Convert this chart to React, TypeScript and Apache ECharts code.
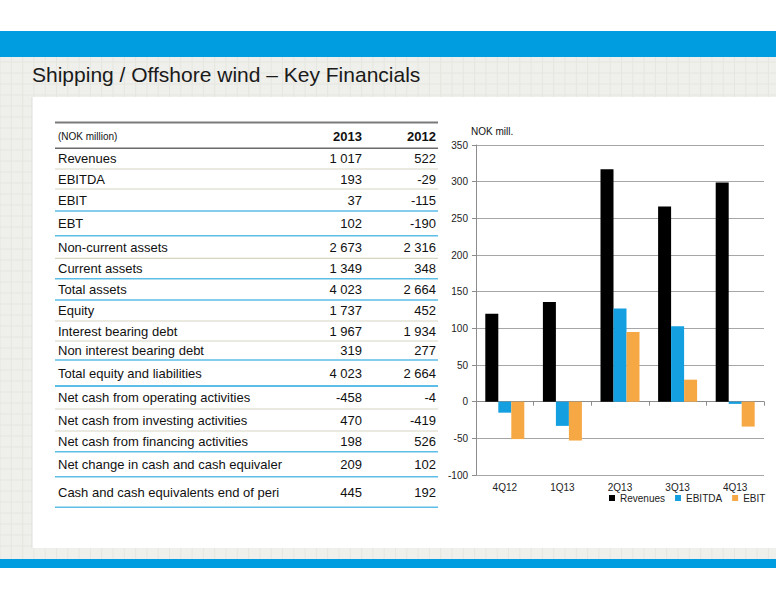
import { useEffect, useRef } from 'react';
import * as echarts from 'echarts';

// chart data (NOK mill.)
const quarters = ['4Q12', '1Q13', '2Q13', '3Q13', '4Q13'];
const revenues = [120, 136, 317, 266, 299];
const ebitda = [-15, -33, 127, 103, -3];
const ebit = [-51, -53, 95, 30, -34];
const yMin = -100;
const yMax = 350;
const yStep = 50;

// table data
const tableHeader = '(NOK million)';
const tableYears = ['2013', '2012'];
const rowLabels = [
    'Revenues',
    'EBITDA',
    'EBIT',
    'EBT',
    'Non-current assets',
    'Current assets',
    'Total assets',
    'Equity',
    'Interest bearing debt',
    'Non interest bearing debt',
    'Total equity and liabilities',
    'Net cash from operating activities',
    'Net cash from investing activities',
    'Net cash from financing activities',
    'Net change in cash and cash equivaler',
    'Cash and cash equivalents end of peri'
];
const values2013 = ['1 017', '193', '37', '102', '2 673', '1 349', '4 023', '1 737', '1 967', '319', '4 023', '-458', '470', '198', '209', '445'];
const values2012 = ['522', '-29', '-115', '-190', '2 316', '348', '2 664', '452', '1 934', '277', '2 664', '-4', '-419', '526', '102', '192'];

// table layout
const rowHeights = [20.7, 20, 22, 24.7, 22.6, 20.4, 21.3, 21, 20, 19, 26, 23, 22, 20.7, 25, 30.6];
const rowRules = ['b', 'b', 'u', 'u', 'b', 'u', 'u', 'b', 'b', 'u', 'u', 'b', 'b', 'u', 'u', 'u'];

const FONT = '"Liberation Sans", Arial, sans-serif';
const BLUE = '#009ee0';
const PANEL = '#efefeb';
const PANEL_LINE = '#e6e6e1';

const buildBackground = () => {
    const els: any[] = [];
    els.push({ type: 'rect', shape: { x: 0, y: 31, width: 776, height: 26 }, style: { fill: BLUE } });
    els.push({ type: 'rect', shape: { x: 0, y: 57, width: 776, height: 40 }, style: { fill: PANEL } });
    els.push({ type: 'rect', shape: { x: 0, y: 97, width: 32, height: 451 }, style: { fill: PANEL } });
    els.push({ type: 'rect', shape: { x: 0, y: 548, width: 776, height: 11 }, style: { fill: PANEL } });
    els.push({ type: 'rect', shape: { x: 0, y: 559, width: 776, height: 9 }, style: { fill: BLUE } });
    // faint grid texture
    for (let x = 0; x <= 776; x += 11.3) {
        els.push({ type: 'line', shape: { x1: x, y1: 57, x2: x, y2: 97 }, style: { stroke: PANEL_LINE, lineWidth: 1 } });
        els.push({ type: 'line', shape: { x1: x, y1: 548, x2: x, y2: 559 }, style: { stroke: PANEL_LINE, lineWidth: 1 } });
        if (x < 32) {
            els.push({ type: 'line', shape: { x1: x, y1: 97, x2: x, y2: 548 }, style: { stroke: PANEL_LINE, lineWidth: 1 } });
        }
    }
    for (let y = 62; y < 97; y += 11) {
        els.push({ type: 'line', shape: { x1: 0, y1: y, x2: 776, y2: y }, style: { stroke: PANEL_LINE, lineWidth: 1 } });
    }
    for (let y = 106; y < 548; y += 11) {
        els.push({ type: 'line', shape: { x1: 0, y1: y, x2: 32, y2: y }, style: { stroke: PANEL_LINE, lineWidth: 1 } });
    }
    els.push({ type: 'line', shape: { x1: 32, y1: 97, x2: 32, y2: 548 }, style: { stroke: '#dedfd9', lineWidth: 1 } });
    els.push({
        type: 'text',
        style: {
            text: 'Shipping / Offshore wind – Key Financials',
            x: 32, y: 74,
            font: '21px ' + FONT,
            fill: '#1a1a1a',
            align: 'left', verticalAlign: 'middle',
            textAlign: 'left', textVerticalAlign: 'middle'
        }
    });
    return els;
};

const txt = (text: string, x: number, y: number, size: number, align: string, bold = false) => ({
    type: 'text',
    style: {
        text, x, y,
        font: (bold ? 'bold ' : '') + size + 'px ' + FONT,
        fill: '#111',
        align, verticalAlign: 'middle',
        textAlign: align, textVerticalAlign: 'middle'
    }
});

const buildTable = () => {
    const els: any[] = [];
    const left = 55;
    const right = 438;
    const col1 = 362;
    const col2 = 436;
    const top = 122.5;
    const headerBottom = 148.3;

    els.push({ type: 'line', shape: { x1: left, y1: top, x2: right, y2: top }, style: { stroke: '#7a7a7a', lineWidth: 2 } });
    els.push(txt(tableHeader, 58, 136, 10, 'left'));
    els.push(txt(tableYears[0], col1, 136, 13, 'right', true));
    els.push(txt(tableYears[1], col2, 136, 13, 'right', true));
    els.push({ type: 'line', shape: { x1: left, y1: headerBottom, x2: right, y2: headerBottom }, style: { stroke: '#6a6a6a', lineWidth: 1.5 } });

    let y = headerBottom;
    rowLabels.forEach((label, i) => {
        const h = rowHeights[i];
        const cy = y + h / 2;
        els.push(txt(label, 58, cy, 13, 'left'));
        els.push(txt(values2013[i], col1, cy, 13, 'right'));
        els.push(txt(values2012[i], col2, cy, 13, 'right'));
        y += h;
        const isBlue = rowRules[i] === 'u';
        els.push({
            type: 'line',
            shape: { x1: left, y1: y, x2: right, y2: y },
            style: { stroke: isBlue ? '#5cbde6' : '#d8d5c2', lineWidth: isBlue ? (i === 10 ? 2.2 : 1.6) : 1.2 }
        });
    });
    return els;
};

const App = () => {
    const chartRef = useRef<HTMLDivElement>(null);

    useEffect(() => {
        document.body.style.margin = '0';
        if (!chartRef.current) return;
        const chart = echarts.init(chartRef.current, undefined, { renderer: 'svg' });

        const option: echarts.EChartsCoreOption = {
            animation: false,
            backgroundColor: '#ffffff',
            textStyle: { fontFamily: FONT },
            grid: { left: 476, top: 145, width: 288, height: 330, containLabel: false },
            legend: {
                left: 609,
                top: 493,
                padding: 0,
                icon: 'rect',
                itemWidth: 6,
                itemHeight: 6,
                itemGap: 10,
                textStyle: { fontSize: 10, color: '#222', fontFamily: FONT },
                data: ['Revenues', 'EBITDA', 'EBIT']
            },
            xAxis: [
                {
                    type: 'category',
                    data: quarters,
                    position: 'bottom',
                    axisLine: { show: false, onZero: false },
                    axisTick: { show: false },
                    axisLabel: { fontSize: 10, color: '#222', margin: 7 }
                },
                {
                    type: 'category',
                    data: quarters,
                    position: 'bottom',
                    axisLine: { show: true, onZero: true, lineStyle: { color: '#8c8c8c', width: 1 } },
                    axisTick: { show: true, length: 4, lineStyle: { color: '#8c8c8c' } },
                    axisLabel: { show: false },
                    splitLine: { show: false }
                }
            ],
            yAxis: {
                type: 'value',
                min: yMin,
                max: yMax,
                interval: yStep,
                axisLine: { show: true, lineStyle: { color: '#8c8c8c' } },
                axisTick: { show: true, length: 4, lineStyle: { color: '#8c8c8c' } },
                axisLabel: { fontSize: 10, color: '#222', margin: 8 },
                splitLine: { lineStyle: { color: '#a6a6a6', width: 1 } }
            },
            series: [
                { name: 'Revenues', type: 'bar', data: revenues, barWidth: 13, barGap: '0%', itemStyle: { color: '#000000' } },
                { name: 'EBITDA', type: 'bar', data: ebitda, barWidth: 13, barGap: '0%', itemStyle: { color: '#139fe0' } },
                { name: 'EBIT', type: 'bar', data: ebit, barWidth: 13, barGap: '0%', itemStyle: { color: '#f6a845' } }
            ],
            graphic: [
                ...buildBackground(),
                ...buildTable(),
                txt('NOK mill.', 471, 131, 10, 'left')
            ]
        };

        chart.setOption(option);
        return () => {
            chart.dispose();
        };
    }, []);

    return <div ref={chartRef} style={{ position: 'absolute', left: 0, top: 0, width: 776, height: 600 }} />;
};

export default App;
